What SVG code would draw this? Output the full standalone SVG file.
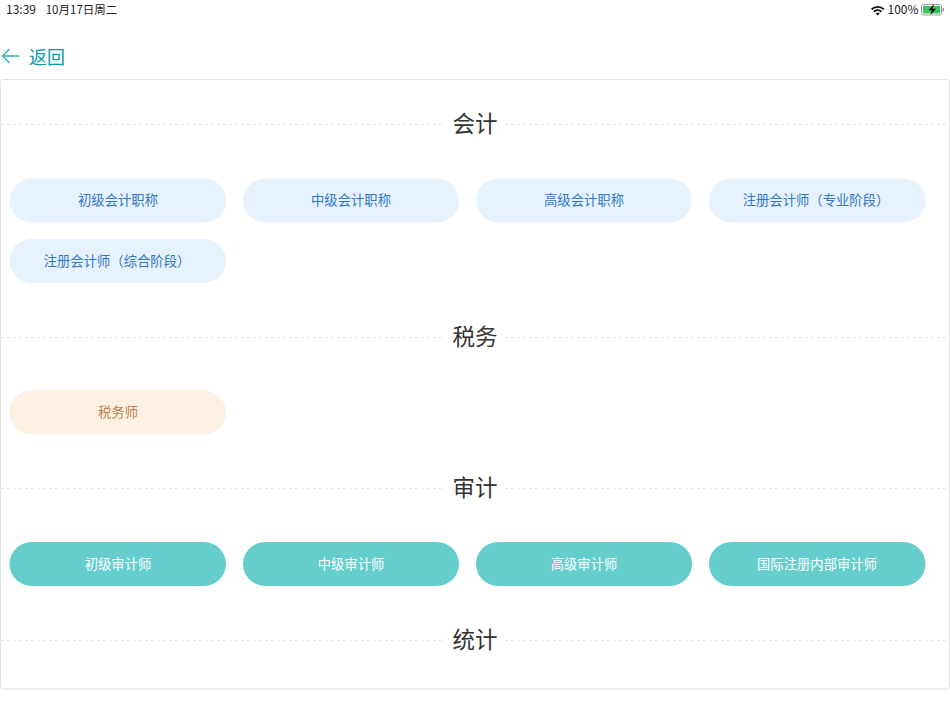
<svg xmlns="http://www.w3.org/2000/svg" width="950" height="712" viewBox="0 0 950 712">
<style>
text{font-family:"Noto Sans CJK SC","Noto Sans",sans-serif;text-anchor:middle}
.h{font-size:22.500px;fill:#333}
.l{font-size:13.330px}
.a rect{fill:#e7f2ff}.a text{fill:#2f78c4}
.b rect{fill:#fdf1e4}.b text{fill:#c07f4e}
.c rect{fill:#66cdcd}.c text{fill:#fff}
.d{stroke:#e8e8e8;stroke-width:1;stroke-dasharray:3 3}
.s{font-size:12px;fill:#222}
</style>
<rect width="950" height="712" fill="#fff"/>
<g id="status">
<text class="s" x="21" y="13.500">13:39</text>
<text class="s" x="81.500" y="13.500" style="font-size:11.500px">10月17日周二</text>
<text class="s" x="903" y="13.500">100%</text>
<path d="M871 8.500a10 10 0 0 1 13.500 0l-1.300 1.400a8 8 0 0 0-10.900 0zM873.300 11a6.500 6.500 0 0 1 8.900 0l-1.300 1.400a4.500 4.500 0 0 0-6.300 0zM875.700 13.500a3 3 0 0 1 4.100 0l-2.050 2z" fill="#111"/>
<rect x="921.500" y="4.500" width="20" height="10.500" rx="2.500" fill="none" stroke="#9a9a9a"/>
<rect x="923" y="6" width="17" height="7.500" rx="1" fill="#35c759"/>
<rect x="942.500" y="8" width="1.500" height="3.500" fill="#9a9a9a"/>
<path d="M934 4l-5.500 6.300h3.200l-1.200 4.700 5.500-6.300h-3.200z" fill="#111"/>
</g>
<g id="back">
<path d="M19.500 56H2.500M9.500 49L2.500 56L9.500 63" fill="none" stroke="#2fb0b5" stroke-width="1.300"/>
<text x="47" y="63.500" font-size="18" fill="#0a9aa8">返回</text>
</g>
<rect id="panel" x="0.500" y="79.500" width="949" height="609.500" rx="3" fill="#fff" stroke="#e2e2e2"/>
<g id="dividers">
<path class="d" d="M1 124.500H445M505 124.500H949M1 337.500H445M505 337.500H949M1 488.500H445M505 488.500H949M1 640.500H445M505 640.500H949"/>
</g>
<g id="sec-kuaiji"><text class="h" x="475" y="132">会计</text></g>
<g id="sec-shuiwu"><text class="h" x="475" y="345">税务</text></g>
<g id="sec-shenji"><text class="h" x="475" y="496">审计</text></g>
<g id="sec-tongji"><text class="h" x="475" y="648">统计</text></g>
<g id="n1" class="a"><rect x="9.500" y="178.500" width="216.500" height="44" rx="22"/><text class="l" x="118" y="205">初级会计职称</text></g>
<g id="n2" class="a"><rect x="243" y="178.500" width="216" height="44" rx="22"/><text class="l" x="351" y="205">中级会计职称</text></g>
<g id="n3" class="a"><rect x="476" y="178.500" width="216" height="44" rx="22"/><text class="l" x="584" y="205">高级会计职称</text></g>
<g id="n4" class="a"><rect x="709" y="178.500" width="216.500" height="44" rx="22"/><text class="l" x="816" y="205">注册会计师（专业阶段）</text></g>
<g id="n5" class="a"><rect x="9.500" y="239" width="216.500" height="44" rx="22"/><text class="l" x="117" y="266">注册会计师（综合阶段）</text></g>
<g id="n6" class="b"><rect x="9.500" y="390.500" width="216.500" height="44" rx="22"/><text class="l" x="118" y="417">税务师</text></g>
<g id="n7" class="c"><rect x="9.500" y="542" width="216.500" height="44" rx="22"/><text class="l" x="118" y="569">初级审计师</text></g>
<g id="n8" class="c"><rect x="243" y="542" width="216" height="44" rx="22"/><text class="l" x="351" y="569">中级审计师</text></g>
<g id="n9" class="c"><rect x="476" y="542" width="216" height="44" rx="22"/><text class="l" x="584" y="569">高级审计师</text></g>
<g id="n10" class="c"><rect x="709" y="542" width="216.500" height="44" rx="22"/><text class="l" x="817" y="569">国际注册内部审计师</text></g>
</svg>
